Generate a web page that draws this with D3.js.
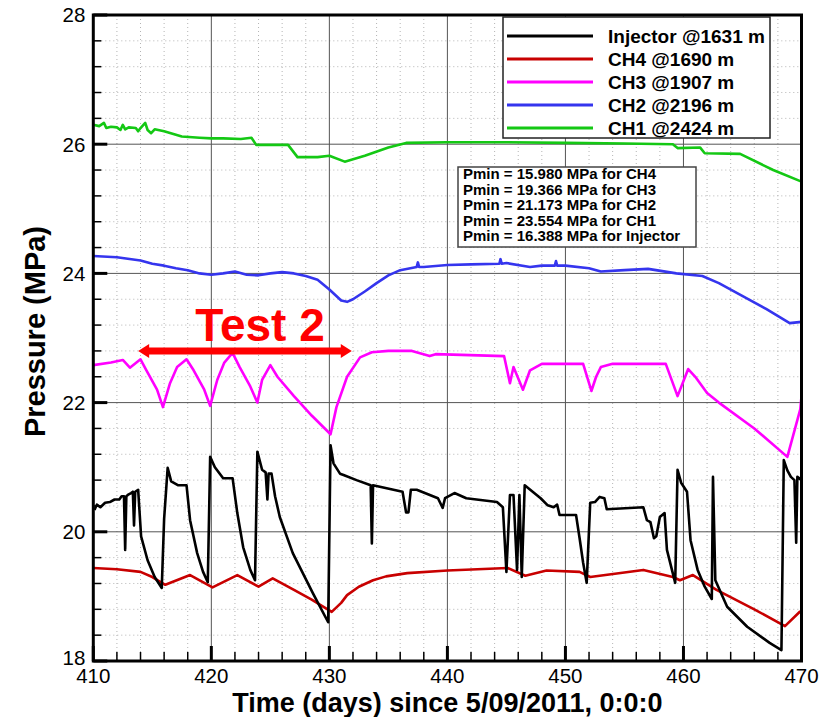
<!DOCTYPE html>
<html>
<head>
<meta charset="utf-8">
<script src="https://cdn.jsdelivr.net/npm/d3@7"></script>
<style>
body { margin: 0; background: #fff; }
svg { display: block; font-family: 'Liberation Sans', Arial, sans-serif; }
</style>
</head>
<body>
<div id="chart"></div>
<script>
'use strict';
// Series data (day since 5/09/2011, pressure in MPa)
const ch1Days = [410, 410.5, 410.9, 411.1, 411.5, 412, 412.3, 412.5, 412.7, 413, 413.6, 413.8, 414, 414.4, 414.6, 414.9, 415.2, 416, 417.5, 419, 420, 421, 422.5, 423.4, 423.8, 426.5, 427.3, 429, 430, 431.3, 433, 435, 436.5, 440, 445, 450, 455, 459.1, 459.5, 461.4, 461.8, 464.8, 467.6, 470]
const ch1Vals = [26.3, 26.28, 26.33, 26.25, 26.27, 26.26, 26.22, 26.3, 26.23, 26.26, 26.25, 26.2, 26.25, 26.33, 26.22, 26.17, 26.23, 26.2, 26.12, 26.1, 26.09, 26.09, 26.08, 26.1, 25.99, 25.99, 25.8, 25.8, 25.82, 25.73, 25.82, 25.95, 26.02, 26.03, 26.03, 26.02, 26.01, 26.0, 25.94, 25.95, 25.86, 25.85, 25.6, 25.42]

const ch2Days = [410, 412, 414, 415, 416, 417, 418, 419, 420, 421, 422, 423, 424, 425, 426, 427, 428, 429, 430, 431, 431.5, 432, 433, 434, 435, 436, 437.4, 437.5, 437.6, 438, 440, 442, 444.4, 444.5, 444.6, 445, 447, 448, 449.1, 449.2, 449.3, 450, 452, 453, 455, 457, 459.4, 461.6, 463, 465.6, 467, 469, 470]
const ch2Vals = [24.27, 24.25, 24.2, 24.15, 24.12, 24.08, 24.05, 24.0, 23.98, 24.0, 24.03, 23.98, 23.97, 24.0, 24.02, 24.0, 23.96, 23.9, 23.75, 23.58, 23.56, 23.6, 23.72, 23.85, 23.97, 24.05, 24.1, 24.17, 24.1, 24.1, 24.13, 24.14, 24.15, 24.22, 24.15, 24.16, 24.1, 24.12, 24.12, 24.19, 24.12, 24.12, 24.08, 24.03, 24.05, 24.07, 24.0, 23.96, 23.85, 23.59, 23.45, 23.23, 23.25]

const ch3Days = [410, 411.5, 412.5, 413.1, 414, 414.5, 415.4, 415.9, 416.5, 417.1, 417.9, 418.5, 419.4, 419.9, 420.5, 421.1, 421.8, 422.4, 423.3, 423.9, 424.3, 425, 425.6, 427, 428.5, 430.1, 430.6, 431.5, 432.6, 433.6, 435, 437, 438.5, 439, 444.8, 445.3, 445.6, 446.4, 447, 448, 451.5, 452.2, 452.6, 453, 454, 458.5, 459.5, 460.4, 461, 462, 463, 466, 468.8, 469.9, 470]
const ch3Vals = [22.58, 22.62, 22.66, 22.54, 22.67, 22.5, 22.2, 21.93, 22.3, 22.55, 22.67, 22.5, 22.2, 21.95, 22.35, 22.62, 22.77, 22.55, 22.25, 22.0, 22.35, 22.58, 22.4, 22.1, 21.8, 21.51, 21.93, 22.4, 22.7, 22.78, 22.8, 22.8, 22.72, 22.75, 22.72, 22.3, 22.55, 22.2, 22.5, 22.6, 22.6, 22.18, 22.4, 22.55, 22.6, 22.6, 22.1, 22.52, 22.4, 22.15, 22.0, 21.6, 21.16, 21.9, 22.1]

const ch4Days = [410, 412, 414, 415, 416.1, 418.2, 420.1, 422.2, 424, 425.2, 427, 428.5, 430.2, 431, 431.5, 432.5, 433.7, 434.8, 436.6, 440, 445.1, 446.6, 448.4, 451.2, 452.1, 456.6, 459.1, 459.7, 460.8, 462.8, 466, 468.6, 469.9]
const ch4Vals = [19.44, 19.42, 19.38, 19.3, 19.18, 19.33, 19.14, 19.33, 19.15, 19.28, 19.1, 18.95, 18.76, 18.9, 19.02, 19.15, 19.25, 19.31, 19.36, 19.4, 19.44, 19.32, 19.4, 19.38, 19.3, 19.41, 19.3, 19.25, 19.33, 19.1, 18.8, 18.54, 18.77]

const injDays = [410.1, 410.3, 410.6, 411, 411.4, 411.8, 412.2, 412.4, 412.6, 412.7, 412.8, 413, 413.2, 413.35, 413.45, 413.55, 413.8, 414.05, 414.6, 415.2, 415.8, 416, 416.3, 416.6, 417.2, 417.9, 418.2, 418.8, 419.3, 419.7, 419.9, 420.3, 421, 421.8, 422.2, 422.7, 423.3, 423.7, 423.9, 424.3, 424.6, 424.75, 424.85, 425.1, 425.4, 425.8, 426.9, 428.6, 429.9, 430.1, 430.35, 430.9, 431.2, 432.3, 433.5, 433.6, 433.7, 436.2, 436.5, 436.7, 436.9, 437.4, 439.2, 439.6, 439.8, 440.6, 441.6, 444.2, 444.7, 445, 445.3, 445.6, 445.9, 446.1, 446.3, 446.55, 447.9, 448.5, 449, 449.3, 449.5, 450.9, 451.2, 451.5, 451.8, 452.1, 452.5, 452.9, 453.3, 453.5, 456.6, 456.9, 457.2, 457.5, 457.7, 458, 458.4, 458.6, 459.3, 459.5, 459.8, 460.3, 460.6, 461.2, 461.8, 462.4, 462.5, 462.7, 463.7, 465.4, 467.3, 468.3, 468.5, 468.8, 469.1, 469.4, 469.55, 469.65, 470]
const injVals = [20.34, 20.42, 20.38, 20.45, 20.46, 20.5, 20.5, 20.55, 20.55, 19.72, 20.55, 20.58, 20.6, 20.62, 20.1, 20.62, 20.65, 19.93, 19.56, 19.3, 19.13, 20.2, 20.99, 20.78, 20.72, 20.72, 20.18, 19.67, 19.38, 19.22, 21.16, 21.0, 20.83, 20.83, 20.29, 19.76, 19.41, 19.25, 21.24, 20.96, 20.92, 20.5, 20.9, 20.9, 20.55, 20.23, 19.67, 19.05, 18.6, 21.34, 21.06, 20.9, 20.88, 20.8, 20.72, 19.82, 20.72, 20.62, 20.3, 20.3, 20.65, 20.65, 20.52, 20.37, 20.52, 20.6, 20.52, 20.46, 20.38, 19.38, 20.57, 20.57, 19.41, 20.57, 19.3, 20.72, 20.52, 20.41, 20.38, 20.42, 20.26, 20.26, 19.9, 19.52, 19.21, 20.45, 20.46, 20.54, 20.52, 20.35, 20.38, 20.18, 20.15, 19.9, 19.93, 20.23, 20.29, 19.72, 19.21, 20.96, 20.76, 20.62, 19.87, 19.41, 19.15, 18.96, 20.85, 19.25, 18.84, 18.53, 18.28, 18.17, 21.11, 20.95, 20.85, 20.8, 19.83, 20.85, 20.8]

const seriesNames = ['Injector @1631 m', 'CH4 @1690 m', 'CH3 @1907 m', 'CH2 @2196 m', 'CH1 @2424 m']
const seriesColors = ['#000000', '#c80000', '#ff00ff', '#3535ee', '#14c814']
const pminLines = ['Pmin = 15.980 MPa for CH4', 'Pmin = 19.366 MPa for CH3', 'Pmin = 21.173 MPa for CH2', 'Pmin = 23.554 MPa for CH1', 'Pmin = 16.388 MPa for Injector']
const xMajorTicks = [410, 420, 430, 440, 450, 460, 470]
const yMajorTicks = [18, 20, 22, 24, 26, 28]
// "Test 2" annotation, in data units
const testSpan = [413.8, 431.9]
const testLevel = 22.8

const W = 832, H = 717
const margin = { top: 15, right: 30.5, bottom: 56, left: 93.3 }
const width = W - margin.left - margin.right
const height = H - margin.top - margin.bottom

const svg = d3.select('#chart').append('svg')
    .attr('width', W)
    .attr('height', H)
const g = svg.append('g')
    .attr('transform', `translate(${margin.left},${margin.top})`)

const x = d3.scaleLinear().domain([410, 470]).range([0, width])
const y = d3.scaleLinear().domain([18, 28]).range([height, 0])

const xMinor = d3.range(0, 31).map(i => 410 + i * 2)
const yMinor = d3.range(0, 26).map(i => +(18 + i * 0.4).toFixed(1))
const isMajorY = d => Math.abs(d % 2) < 0.01

// dotted minor grid
g.append('g').selectAll('line').data(xMinor.filter(d => d % 10 !== 0)).enter().append('line')
    .attr('x1', d => x(d)).attr('x2', d => x(d))
    .attr('y1', 0).attr('y2', height)
    .attr('stroke', '#b4b4b4').attr('stroke-width', 1).attr('stroke-dasharray', '1,3')
g.append('g').selectAll('line').data(yMinor.filter(d => !isMajorY(d))).enter().append('line')
    .attr('x1', 0).attr('x2', width)
    .attr('y1', d => y(d)).attr('y2', d => y(d))
    .attr('stroke', '#b4b4b4').attr('stroke-width', 1).attr('stroke-dasharray', '1,3')
// solid major grid
g.append('g').selectAll('line').data(xMajorTicks.slice(1, -1)).enter().append('line')
    .attr('x1', d => x(d)).attr('x2', d => x(d))
    .attr('y1', 0).attr('y2', height)
    .attr('stroke', '#555').attr('stroke-width', 1)
g.append('g').selectAll('line').data(yMajorTicks.slice(1, -1)).enter().append('line')
    .attr('x1', 0).attr('x2', width)
    .attr('y1', d => y(d)).attr('y2', d => y(d))
    .attr('stroke', '#555').attr('stroke-width', 1)

// data lines
const clip = svg.append('defs').append('clipPath').attr('id', 'plotclip')
clip.append('rect').attr('x', 0).attr('y', 0).attr('width', width).attr('height', height)
const line = d3.line().x(d => x(d[0])).y(d => y(d[1]))
const zip = (a, b) => a.map((d, i) => [d, b[i]])
const series = [
    zip(injDays, injVals),
    zip(ch4Days, ch4Vals),
    zip(ch3Days, ch3Vals),
    zip(ch2Days, ch2Vals),
    zip(ch1Days, ch1Vals)
]
const plot = g.append('g').attr('clip-path', 'url(#plotclip)')
// back-to-front: green, blue, magenta, red, black
;[4, 3, 2, 1, 0].forEach(i => {
    plot.append('path').datum(series[i])
        .attr('fill', 'none')
        .attr('stroke', seriesColors[i])
        .attr('stroke-width', 2.6)
        .attr('stroke-linejoin', 'round')
        .attr('d', line)
})

// frame
g.append('rect')
    .attr('width', width).attr('height', height)
    .attr('fill', 'none').attr('stroke', '#000').attr('stroke-width', 3)

// inward ticks
g.append('g').selectAll('line').data(xMinor).enter().append('line')
    .attr('x1', d => x(d)).attr('x2', d => x(d))
    .attr('y1', height).attr('y2', d => height - (d % 10 === 0 ? 15 : 9))
    .attr('stroke', '#000').attr('stroke-width', d => d % 10 === 0 ? 3 : 1.5)
g.append('g').selectAll('line').data(yMinor).enter().append('line')
    .attr('x1', 0).attr('x2', d => isMajorY(d) ? 14 : 8)
    .attr('y1', d => y(d)).attr('y2', d => y(d))
    .attr('stroke', '#000').attr('stroke-width', d => isMajorY(d) ? 3 : 1.5)

// tick labels
g.append('g').selectAll('text').data(xMajorTicks).enter().append('text')
    .attr('x', d => x(d)).attr('y', height + 22)
    .attr('text-anchor', 'middle')
    .attr('font-size', 20.5)
    .text(d => d)
g.append('g').selectAll('text').data(yMajorTicks).enter().append('text')
    .attr('x', -8).attr('y', d => y(d))
    .attr('dy', d => d === 18 ? '0.2em' : '0.36em')
    .attr('text-anchor', 'end')
    .attr('font-size', 20.5)
    .text(d => d)

// axis titles
svg.append('text')
    .attr('x', margin.left + width / 2).attr('y', 712)
    .attr('text-anchor', 'middle')
    .attr('font-size', 27).attr('font-weight', 'bold')
    .text('Time (days) since 5/09/2011, 0:0:0')
svg.append('text')
    .attr('transform', `translate(45, ${margin.top + y(23.1)}) rotate(-90)`)
    .attr('text-anchor', 'middle')
    .attr('font-size', 29).attr('font-weight', 'bold')
    .text('Pressure (MPa)')

// legend
const legend = svg.append('g').attr('transform', 'translate(503,17)')
legend.append('rect')
    .attr('width', 267).attr('height', 121)
    .attr('fill', '#fff').attr('stroke', '#222').attr('stroke-width', 1.5)
seriesNames.forEach((name, i) => {
    const ly = 19 + i * 23
    legend.append('line')
        .attr('x1', 4).attr('x2', 90).attr('y1', ly).attr('y2', ly)
        .attr('stroke', seriesColors[i]).attr('stroke-width', 3)
    legend.append('text')
        .attr('x', 105).attr('y', ly + 7)
        .attr('font-size', 19).attr('font-weight', 'bold')
        .text(name)
})

// Pmin box
const pbox = svg.append('g').attr('transform', 'translate(458,167)')
pbox.append('rect')
    .attr('width', 238).attr('height', 80)
    .attr('fill', '#fff').attr('stroke', '#444').attr('stroke-width', 1.5)
pbox.selectAll('text').data(pminLines).enter().append('text')
    .attr('x', 5).attr('y', (d, i) => 12 + i * 15.6)
    .attr('font-size', 15).attr('font-weight', 'bold')
    .text(d => d)

// Test 2 annotation
const red = '#ff0000'
const ax1 = x(testSpan[0]), ax2 = x(testSpan[1]), ay = y(testLevel)
g.append('line')
    .attr('x1', ax1 + 8).attr('x2', ax2 - 8).attr('y1', ay).attr('y2', ay)
    .attr('stroke', red).attr('stroke-width', 7)
g.append('path')
    .attr('d', `M${ax1},${ay} L${ax1 + 11},${ay - 7} L${ax1 + 11},${ay + 7} Z M${ax2},${ay} L${ax2 - 11},${ay - 7} L${ax2 - 11},${ay + 7} Z`)
    .attr('fill', red)
g.append('text')
    .attr('x', (ax1 + ax2) / 2 + 15).attr('y', ay - 10)
    .attr('text-anchor', 'middle')
    .attr('font-size', 46).attr('font-weight', 'bold')
    .attr('fill', red)
    .text('Test 2')
</script>
</body>
</html>
